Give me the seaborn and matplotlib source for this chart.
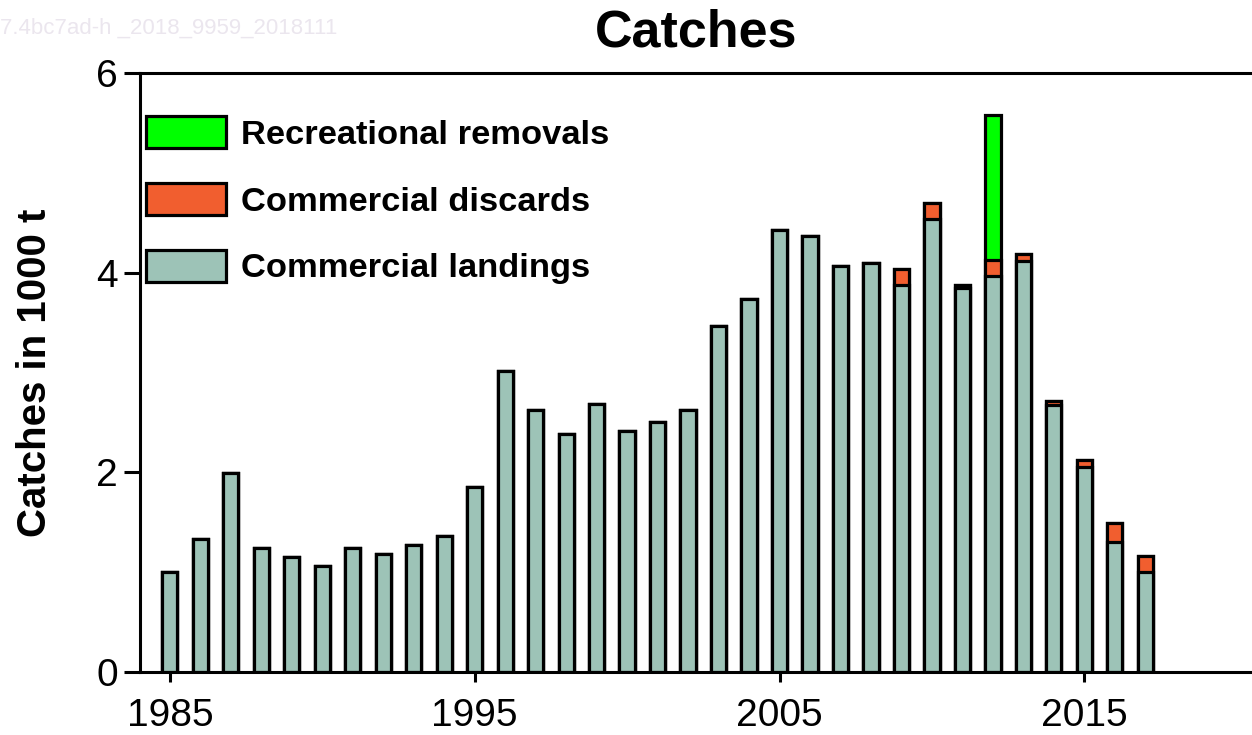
import matplotlib.pyplot as plt
import pandas as pd
import seaborn as sns

# catches in 1000 t
years = list(range(1985, 2018))
landings = [1.00, 1.33, 1.99, 1.24, 1.15, 1.06, 1.24, 1.18, 1.27, 1.36,
            1.85, 3.02, 2.62, 2.38, 2.68, 2.41, 2.50, 2.62, 3.47, 3.74,
            4.43, 4.37, 4.07, 4.10, 3.88, 4.54, 3.85, 3.97, 4.12, 2.67,
            2.05, 1.30, 1.00]
discards = [0, 0, 0, 0, 0, 0, 0, 0, 0, 0,
            0, 0, 0, 0, 0, 0, 0, 0, 0, 0,
            0, 0, 0, 0, 0.16, 0.16, 0.03, 0.16, 0.07, 0.04,
            0.07, 0.19, 0.16]
recreational = [0] * 27 + [1.45] + [0] * 5

df = pd.DataFrame({'year': years, 'landings': landings,
                   'discards': discards, 'recreational': recreational})
df['land_disc'] = df['landings'] + df['discards']
df['total'] = df['land_disc'] + df['recreational']

sns.set_style('ticks')
plt.rcParams['font.family'] = ['Liberation Sans', 'DejaVu Sans']
plt.rcParams['axes.edgecolor'] = 'black'
plt.rcParams['text.color'] = 'black'
plt.rcParams['axes.labelcolor'] = 'black'
plt.rcParams['xtick.color'] = 'black'
plt.rcParams['ytick.color'] = 'black'

fig = plt.figure(figsize=(12.52, 7.35), dpi=100)
ax = fig.add_axes([140 / 1252, 63 / 735, 1112 / 1252, 599 / 735])

bar_kw = dict(native_scale=True, width=0.5, errorbar=None, saturation=1,
              edgecolor='black', linewidth=2.3, ax=ax)
sns.barplot(data=df, x='year', y='total', color='#00ff00',
            label='Recreational removals', **bar_kw)
sns.barplot(data=df, x='year', y='land_disc', color='#f15e2f',
            label='Commercial discards', **bar_kw)
sns.barplot(data=df, x='year', y='landings', color='#9dc3b7',
            label='Commercial landings', **bar_kw)

ax.set_xlim(1984.02, 2020.5)
ax.set_ylim(0, 6)
ax.set_yticks([0, 2, 4, 6])
ax.set_xticks([1985, 1995, 2005, 2015])
ax.set_xticklabels(['1985', '1995', '2005', '2015'])
ax.set_yticklabels(['0', '2', '4', '6'])

ax.tick_params(axis='y', length=11.5, width=2.2, pad=4.3, labelsize=28,
               left=True, color='black', labelcolor='black')
ax.tick_params(axis='x', length=7, width=2.2, pad=12, labelsize=28,
               bottom=True, color='black', labelcolor='black')

for sp in ['left', 'bottom', 'top']:
    ax.spines[sp].set_visible(True)
    ax.spines[sp].set_linewidth(2.2)
    ax.spines[sp].set_color('black')
ax.spines['right'].set_visible(False)

ax.set_xlabel('')
ax.set_ylabel('Catches in 1000 t', fontsize=29, fontweight='bold', color='black')
ax.yaxis.set_label_coords(-0.077, 0.5)
ax.set_title('Catches', fontsize=37.5, fontweight='bold', pad=19, color='black')

ax.legend(loc='upper left', bbox_to_anchor=(0.0058, 0.928), frameon=False,
          prop={'family': 'Liberation Sans', 'weight': 'bold', 'size': 24.8},
          handlelength=2.3, handleheight=1.05, handletextpad=0.45,
          labelspacing=0.93, borderpad=0, borderaxespad=0)

fig.text(0.0, 1 - 28 / 735, '7.4bc7ad-h _2018_9959_2018111',
         color='#ebe6ee', fontsize=16, va='center', ha='left')

fig.savefig('out.png', dpi=100)
